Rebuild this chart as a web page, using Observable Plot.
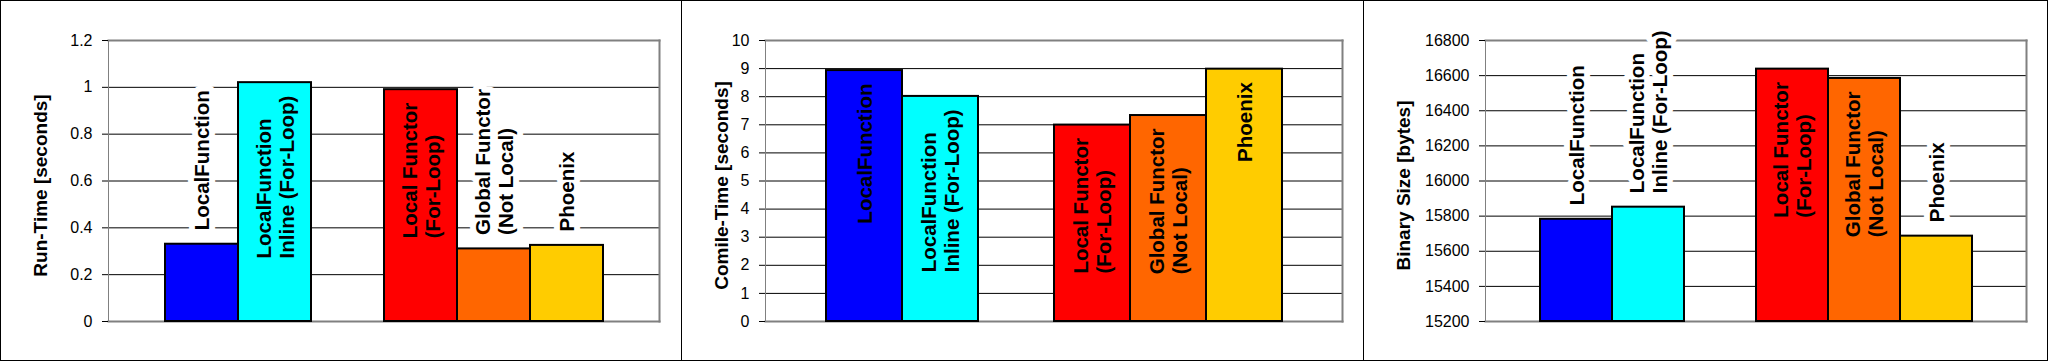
<!DOCTYPE html>
<html>
<head>
<meta charset="utf-8">
<script src="https://cdn.jsdelivr.net/npm/d3@7"></script>
<script src="https://cdn.jsdelivr.net/npm/@observablehq/plot@0.6"></script>
<style>
  html, body { margin: 0; padding: 0; background: #fff; }
  #wrap { position: relative; width: 2048px; height: 361px; overflow: hidden; background: #fff;
          font-family: Arial, "Liberation Sans", sans-serif; }
  .panel { position: absolute; top: 0; }
  .panel svg { display: block; overflow: visible; }
  .line { position: absolute; background: #000; pointer-events: none; }
</style>
</head>
<body>
<div id="wrap"></div>
<script>
// ---- data ----
const categories = [
  "LocalFunction",
  "LocalFunction\nInline (For-Loop)",
  "Local Functor\n(For-Loop)",
  "Global Functor\n(Not Local)",
  "Phoenix"
];
const colors = ["#0000FF", "#00FFFF", "#FF0000", "#FF6600", "#FFCC00"];

const runTime     = [0.33, 1.02, 0.99, 0.31, 0.325];
const compileTime = [8.93, 8.01, 6.99, 7.33, 8.98];
const binarySize  = [15782, 15851, 16637, 16584, 15686];

const runTicks     = [0, 0.2, 0.4, 0.6, 0.8, 1, 1.2];
const compileTicks = [0, 1, 2, 3, 4, 5, 6, 7, 8, 9, 10];
const sizeTicks    = [15200, 15400, 15600, 15800, 16000, 16200, 16400, 16600, 16800];

const titles = ["Run-Time [seconds]", "Comile-Time [seconds]", "Binary Size [bytes]"];

// ---- layout ----
const FONT = 'Arial, "Liberation Sans", sans-serif';
const H = 361, MT = 40, MB = 40;
const LABEL_FS = 20.5, GAP_OUT = 14, GAP_IN = 13, TITLE_X = 40.5;
const SPACER = " ";

const panels = [
  {title: titles[0], values: runTime,     ticks: runTicks,     left: 0,    width: 681, ml: 108, mr: 22},
  {title: titles[1], values: compileTime, ticks: compileTicks, left: 681,  width: 682, ml: 84,  mr: 21},
  {title: titles[2], values: binarySize,  ticks: sizeTicks,    left: 1363, width: 685, ml: 122, mr: 22}
];

const ctx = document.createElement("canvas").getContext("2d");
ctx.font = `bold ${LABEL_FS}px ${FONT}`;

function makePanel(cfg) {
  const lo = cfg.ticks[0], hi = cfg.ticks[cfg.ticks.length - 1];
  const k = (H - MT - MB) / (hi - lo);
  const data = categories.map((c, i) => {
    const v = cfg.values[i];
    const len = Math.max(...c.split("\n").map(s => ctx.measureText(s).width));
    const inside = (v - lo) / (hi - lo) > 0.5;
    return {cat: c, value: v, inside, labelY: inside ? v - (GAP_IN + len) / k : v + GAP_OUT / k};
  });
  const xDomain = [categories[0], categories[1], SPACER, categories[2], categories[3], categories[4]];
  const labelOpts = {x: "cat", y: "labelY", text: "cat", rotate: -90, textAnchor: "start",
                     lineAnchor: "middle", lineHeight: 1.12, fontSize: LABEL_FS, fontWeight: "bold", fill: "#000"};
  return Plot.plot({
    width: cfg.width, height: H,
    marginLeft: cfg.ml, marginRight: cfg.mr, marginTop: MT, marginBottom: MB,
    style: {fontFamily: FONT, background: "transparent", color: "#000"},
    x: {domain: xDomain, paddingInner: 0, paddingOuter: 0.75, axis: null},
    y: {domain: [lo, hi], label: null},
    color: {domain: categories, range: colors},
    marks: [
      Plot.ruleY(cfg.ticks.slice(1, -1), {stroke: "#000", strokeWidth: 1}),
      Plot.frame({anchor: "top", stroke: "#808080", strokeWidth: 2}),
      Plot.frame({anchor: "right", stroke: "#808080", strokeWidth: 2}),
      Plot.frame({anchor: "bottom", stroke: "#808080", strokeWidth: 2}),
      Plot.frame({anchor: "left", stroke: "#808080", strokeWidth: 1}),
      Plot.axisY({ticks: cfg.ticks, tickSize: 6, tickPadding: 10, tickFormat: d => String(d),
                  fontSize: 16, label: null, stroke: "#000"}),
      Plot.barY(data, {x: "cat", y1: lo, y2: "value", fill: "cat", stroke: "#000", strokeWidth: 2}),
      Plot.text(data.filter(d => !d.inside), {...labelOpts, stroke: "#fff", strokeWidth: 12, strokeLinejoin: "round"}),
      Plot.text(data.filter(d => d.inside), labelOpts),
      Plot.text([cfg.title], {frameAnchor: "left", textAnchor: "middle", rotate: -90, dx: TITLE_X - cfg.ml, dy: 4.5,
                              fontSize: 19, fontWeight: "bold", fill: "#000", lineAnchor: "middle"})
    ]
  });
}

const wrap = document.getElementById("wrap");
for (const cfg of panels) {
  const div = document.createElement("div");
  div.className = "panel";
  div.style.left = cfg.left + "px";
  div.style.width = cfg.width + "px";
  div.appendChild(makePanel(cfg));
  wrap.appendChild(div);
}
// panel borders
const borders = [
  {left: 0, top: 0, width: 2048, height: 1},
  {left: 0, top: 360, width: 2048, height: 1},
  {left: 0, top: 0, width: 1, height: 361},
  {left: 2047, top: 0, width: 1, height: 361},
  {left: 681, top: 0, width: 1, height: 361},
  {left: 1363, top: 0, width: 1, height: 361}
];
for (const b of borders) {
  const d = document.createElement("div");
  d.className = "line";
  Object.assign(d.style, {left: b.left + "px", top: b.top + "px", width: b.width + "px", height: b.height + "px"});
  wrap.appendChild(d);
}
</script>
</body>
</html>
